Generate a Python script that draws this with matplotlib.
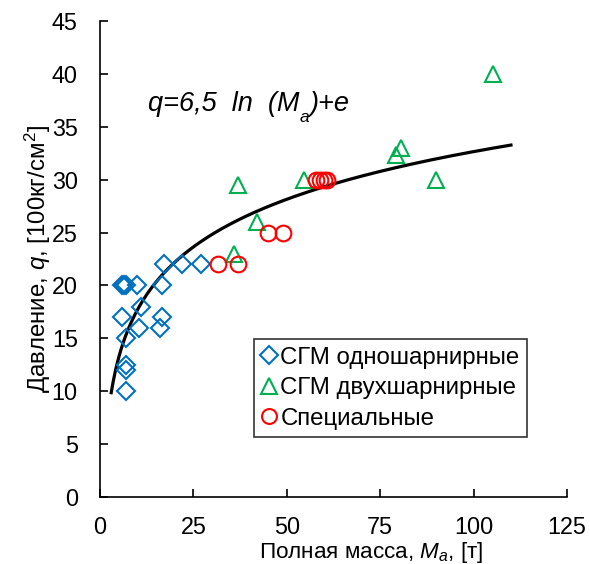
import numpy as np
import matplotlib.pyplot as plt

plt.rcParams["font.family"] = ["Liberation Sans", "DejaVu Sans"]
plt.rcParams["mathtext.fontset"] = "custom"
plt.rcParams["mathtext.rm"] = "Liberation Sans"
plt.rcParams["mathtext.it"] = "Liberation Sans:italic"

# single-hinged (blue diamonds)
one_x = [7, 7, 7, 6, 7, 10.5, 11, 16, 16.5, 16.5, 10, 6, 6.5, 7, 17, 22, 27]
one_y = [10, 12, 12.5, 17, 15, 16, 18, 16, 17, 20, 20, 20, 20, 20, 22, 22, 22]

# double-hinged (green triangles)
two_x = [36, 37, 42, 54.5, 79.2, 80.7, 90, 105.3]
two_y = [23, 29.5, 26, 30, 32.3, 33, 30, 40]

# special (red circles)
spec_x = [31.5, 37, 45, 49, 57.8, 59, 60, 60.8]
spec_y = [22, 22, 25, 25, 30, 30, 30, 30]

# trend line q = 6.5 ln(Ma) + e
fit_a = 6.5
fit_b = np.e
fit_x = np.linspace(3, 110, 200)
fit_y = fit_a * np.log(fit_x) + fit_b

fig = plt.figure(figsize=(5.9, 5.64), dpi=100)
ax = fig.add_axes([100 / 590, 67 / 564, 467 / 590, 476 / 564])

ax.plot(fit_x, fit_y, color="black", linewidth=2.3, zorder=2)
ax.plot(one_x, one_y, "D", markersize=9.2, markerfacecolor="none",
        markeredgecolor="#0070C0", markeredgewidth=1.5, linestyle="none",
        label="СГМ одношарнирные", zorder=3)
ax.plot(two_x, two_y, "^", markersize=11.5, markerfacecolor="none",
        markeredgecolor="#00B050", markeredgewidth=1.5, linestyle="none",
        label="СГМ двухшарнирные", zorder=3)
ax.plot(spec_x, spec_y, "o", markersize=11.3, markerfacecolor="none",
        markeredgecolor="#FF0000", markeredgewidth=1.5, linestyle="none",
        label="Специальные", zorder=3)

ax.set_xlim(0, 125)
ax.set_ylim(0, 45)
ax.set_xticks(np.arange(0, 126, 25))
ax.set_yticks(np.arange(0, 46, 5))
ax.spines["top"].set_visible(False)
ax.spines["right"].set_visible(False)
for s in ("left", "bottom"):
    ax.spines[s].set_linewidth(1.2)
ax.tick_params(axis="both", direction="in", length=6, width=1.2, labelsize=16.8)
ax.tick_params(axis="x", pad=14)
ax.tick_params(axis="y", pad=16)

ax.set_xlabel("Полная масса, $M_a$, [т]", fontsize=16.2, va="top")
ax.xaxis.set_label_coords(0.58, -0.0893)
ax.set_ylabel("Давление, $q$, [100кг/см$^2$]", fontsize=17.3)
ax.yaxis.set_label_coords(-0.1, 0.5)

# formula label, assembled from pieces to keep tight spacing
t1 = ax.text(12.9, 36.45, "q=6,5  ln  (M", fontsize=19.5, style="italic", va="baseline")
t2 = ax.annotate("a", xy=(1, 0), xycoords=t1, xytext=(0, -3.5),
                 textcoords="offset points", fontsize=12.5, style="italic", va="baseline")
t3 = ax.annotate(")+e", xy=(1, 0), xycoords=(t2, t1), xytext=(0, 0),
                 textcoords="offset points", fontsize=19.5, style="italic", va="bottom")

leg = ax.legend(loc="lower right", bbox_to_anchor=(0.914, 0.126), borderaxespad=0,
                fontsize=17.3, frameon=True, fancybox=False, handlelength=0.67,
                handletextpad=0.13, borderpad=0.3, labelspacing=0.36, markerscale=0.95)
leg.get_frame().set_edgecolor("black")
leg.get_frame().set_linewidth(1.2)

fig.savefig("out.png", dpi=100)
